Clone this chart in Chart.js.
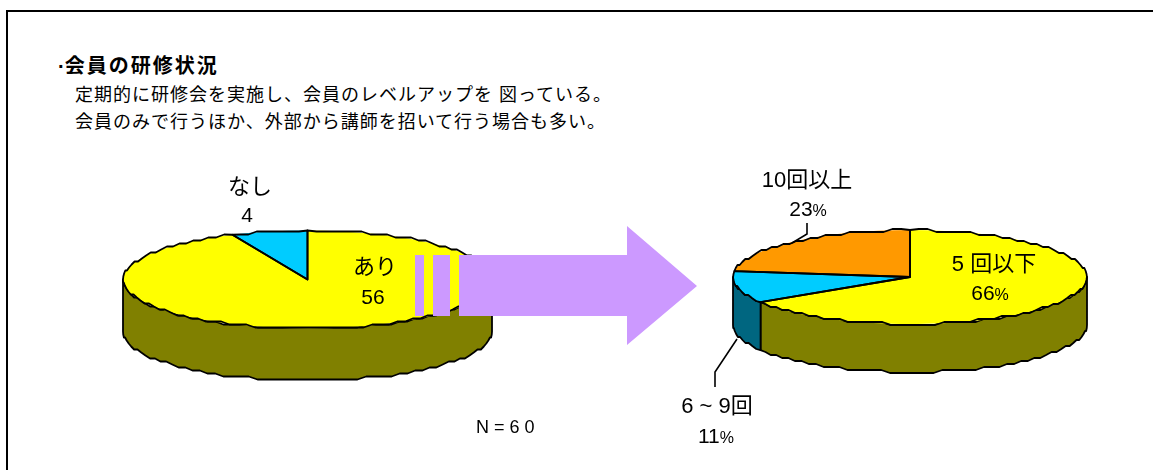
<!DOCTYPE html>
<html lang="ja">
<head>
<meta charset="utf-8">
<title>会員の研修状況</title>
<script src="https://cdn.jsdelivr.net/npm/chart.js@4"></script>
<style>
html,body{margin:0;padding:0;background:#fff;}
body{width:1153px;height:470px;position:relative;overflow:hidden;font-family:"Liberation Sans","Noto Sans CJK JP",sans-serif;color:#000;}
#frame{position:absolute;left:6px;top:10px;width:1160px;height:480px;border:2px solid #000;box-sizing:border-box;}
canvas{position:absolute;}
svg{position:absolute;left:0;top:0;}
.t{position:absolute;white-space:nowrap;line-height:1;}
.lab{position:absolute;white-space:nowrap;font-size:21px;line-height:1;transform:translate(-50%,-50%);}
.lab.cat{font-size:22px;}
.lab small{font-size:16px;}
</style>
</head>
<body>
<div id="frame"></div>
<div class="t" style="left:58px;top:56px;font-size:20px;font-weight:bold;letter-spacing:2px;"><span style="letter-spacing:0">·</span>会員の研修状況</div>
<div class="t" style="left:75px;top:86px;font-size:18px;letter-spacing:1px;">定期的に研修会を実施し、会員のレベルアップを 図っている。</div>
<div class="t" style="left:75px;top:113px;font-size:18px;letter-spacing:1px;">会員のみで行うほか、外部から講師を招いて行う場合も多い。</div>

<canvas id="pieLeft" width="385" height="385" style="left:115px;top:87px"></canvas>
<canvas id="pieRight" width="370" height="370" style="left:725px;top:92px"></canvas>

<svg width="1153" height="470">
  <path d="M792 243L807 234V223M737 339L715 372V387" fill="none" stroke="#000" stroke-width="1.6"/>
  <path d="M415 255H424V316H415ZM433 255H450V316H433ZM459 255H627V226L697 286L627 345V316H459Z" fill="#cc99ff"/>
</svg>

<div id="labels"></div>
<div class="t" style="left:476px;top:418px;font-size:18px;">N = 6 0</div>

<script>
const leftCategories=['あり','なし'];
const leftValues=[56,4];
const rightCategories=['5 回以下','6 ~ 9回','10回以上'];
const rightValues=[66,11,23];

const YELLOW='#ffff00',BLUE='#00ccff',ORANGE='#ff9900';
const OLIVE='#808000',TEAL='#006680',DARKORANGE='#804c00';

/* the reference has a stepped, low-res rim: walk the ellipse and snap y */
function rim(ctx,cx,cy,rx,ry,a0,a1,first){
  const n=Math.max(2,Math.ceil(Math.abs(a1-a0)/0.05));
  for(let i=0;i<=n;i++){
    const t=a0+(a1-a0)*i/n;
    const x=cx+rx*Math.cos(t);
    let dy=ry*Math.sin(t);
    if(i>0&&i<n)dy=Math.round(dy/3)*3;
    if(i==0&&first)ctx.moveTo(x,cy+dy);else ctx.lineTo(x,cy+dy);
  }
}

/* squash the pie into an ellipse and give it a side wall */
const pie3d={
  id:'pie3d',
  beforeDatasetsDraw(chart,args,opts){
    const ctx=chart.ctx,arcs=chart.getDatasetMeta(0).data;
    ctx.save();
    ctx.lineWidth=1.8;ctx.strokeStyle='#000';ctx.lineJoin='round';
    arcs.forEach((a,i)=>{
      // only the front half of the rim is visible
      const s=Math.max(a.startAngle,0),e=Math.min(a.endAngle,Math.PI);
      if(s>=e)return;
      const rx=a.outerRadius,ry=rx*opts.tilt;
      ctx.beginPath();
      rim(ctx,a.x,a.y,rx,ry,s,e,true);
      rim(ctx,a.x,a.y+opts.depth,rx,ry,e,s,false);
      ctx.closePath();
      ctx.fillStyle=opts.sideColors[i];
      ctx.fill();ctx.stroke();
    });
    ctx.restore();
    const cx=chart.chartArea.left+chart.chartArea.width/2,cy=chart.chartArea.top+chart.chartArea.height/2;
    ctx.save();
    ctx.translate(cx,cy);ctx.scale(1,opts.tilt);ctx.translate(-cx,-cy);
  },
  afterDatasetsDraw(chart,args,opts){
    const ctx=chart.ctx;
    ctx.restore();
    // outlines are stroked unscaled so the pen stays even all round
    ctx.save();
    ctx.lineWidth=1.8;ctx.strokeStyle='#000';ctx.lineJoin='round';
    chart.getDatasetMeta(0).data.forEach(a=>{
      const rx=a.outerRadius,ry=rx*opts.tilt;
      ctx.beginPath();
      ctx.moveTo(a.x,a.y);
      rim(ctx,a.x,a.y,rx,ry,a.startAngle,a.endAngle,false);
      ctx.closePath();
      ctx.stroke();
    });
    ctx.restore();
  }
};

function makePie(id,labels,data,colors,sideColors,tilt,depth){
  return new Chart(document.getElementById(id),{
    type:'pie',
    plugins:[pie3d],
    data:{labels,datasets:[{data,backgroundColor:colors,borderWidth:0,clip:false}]},
    options:{
      responsive:false,animation:false,
      layout:{padding:8},
      plugins:{legend:{display:false},tooltip:{enabled:false},pie3d:{tilt,depth,sideColors}}
    }
  });
}
makePie('pieLeft',leftCategories,leftValues,[YELLOW,BLUE],[OLIVE,TEAL],49/184.5,52);
makePie('pieRight',rightCategories,rightValues,[YELLOW,BLUE,ORANGE],[OLIVE,TEAL,DARKORANGE],47/177,48);

/* labels: name on top, value under it */
function addLabel(html,x,y,cls){
  const d=document.createElement('div');
  d.className='lab '+(cls||'');d.innerHTML=html;
  d.style.left=x+'px';d.style.top=y+'px';
  document.getElementById('labels').appendChild(d);
}
const pct=v=>v+'<small>%</small>';
addLabel(leftCategories[1],250,187,'cat');
addLabel(leftValues[1],247,214);
addLabel(leftCategories[0],375,267,'cat');
addLabel(leftValues[0],373,296);
addLabel(rightCategories[0],994,264,'cat');
addLabel(pct(rightValues[0]),990,292);
addLabel(rightCategories[2],807,180,'cat');
addLabel(pct(rightValues[2]),808,208);
addLabel(rightCategories[1],717,406,'cat');
addLabel(pct(rightValues[1]),716,435);
</script>
</body>
</html>
